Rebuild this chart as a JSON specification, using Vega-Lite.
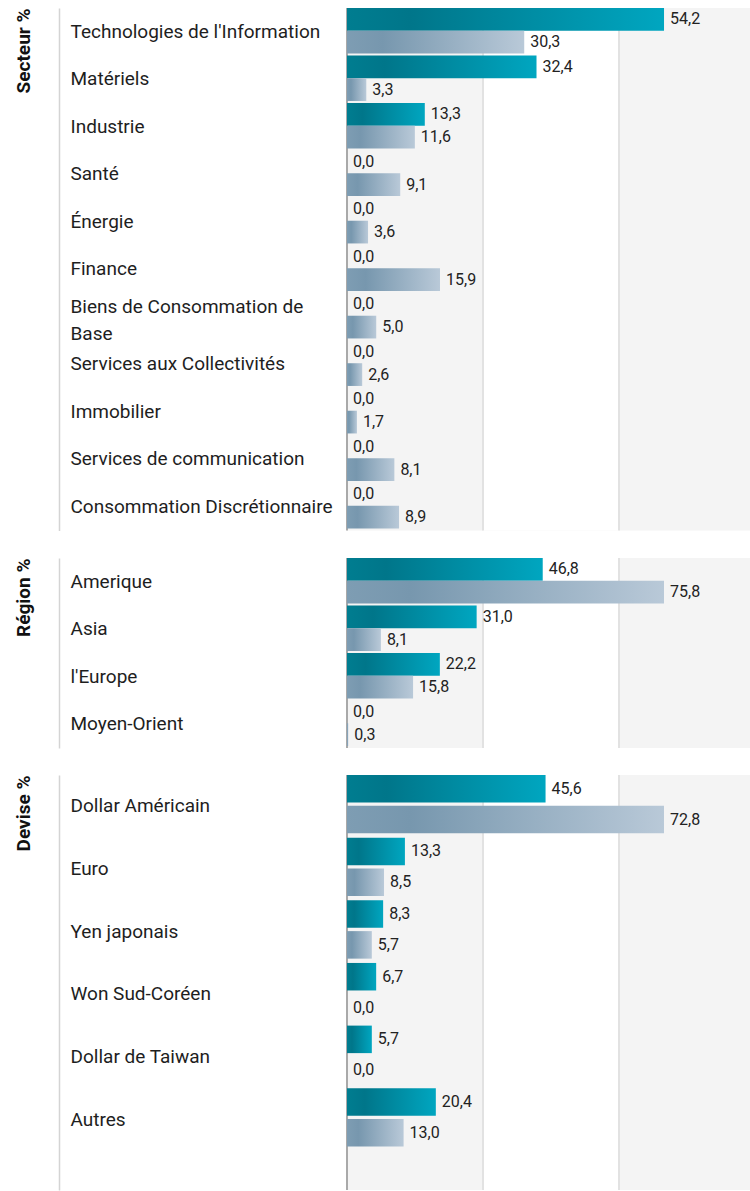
{
  "$schema": "https://vega.github.io/schema/vega-lite/v6.json",
  "background": "#ffffff",
  "padding": {"left": 14, "top": 7, "right": 0, "bottom": 0},
  "autosize": {"type": "pad"},
  "spacing": 25,
  "resolve": {"scale": {"yOffset": "independent"}},
  "datasets": {
    "secteur": [
      {"cat": "Technologies de l'Information", "s": "Fonds", "v": 54.2},
      {"cat": "Technologies de l'Information", "s": "Indice", "v": 30.3},
      {"cat": "Matériels", "s": "Fonds", "v": 32.4},
      {"cat": "Matériels", "s": "Indice", "v": 3.3},
      {"cat": "Industrie", "s": "Fonds", "v": 13.3},
      {"cat": "Industrie", "s": "Indice", "v": 11.6},
      {"cat": "Santé", "s": "Fonds", "v": 0.0},
      {"cat": "Santé", "s": "Indice", "v": 9.1},
      {"cat": "Énergie", "s": "Fonds", "v": 0.0},
      {"cat": "Énergie", "s": "Indice", "v": 3.6},
      {"cat": "Finance", "s": "Fonds", "v": 0.0},
      {"cat": "Finance", "s": "Indice", "v": 15.9},
      {"cat": "Biens de Consommation de Base", "s": "Fonds", "v": 0.0},
      {"cat": "Biens de Consommation de Base", "s": "Indice", "v": 5.0},
      {"cat": "Services aux Collectivités", "s": "Fonds", "v": 0.0},
      {"cat": "Services aux Collectivités", "s": "Indice", "v": 2.6},
      {"cat": "Immobilier", "s": "Fonds", "v": 0.0},
      {"cat": "Immobilier", "s": "Indice", "v": 1.7},
      {"cat": "Services de communication", "s": "Fonds", "v": 0.0},
      {"cat": "Services de communication", "s": "Indice", "v": 8.1},
      {"cat": "Consommation Discrétionnaire", "s": "Fonds", "v": 0.0},
      {"cat": "Consommation Discrétionnaire", "s": "Indice", "v": 8.9}
    ],
    "region": [
      {"cat": "Amerique", "s": "Fonds", "v": 46.8},
      {"cat": "Amerique", "s": "Indice", "v": 75.8},
      {"cat": "Asia", "s": "Fonds", "v": 31.0},
      {"cat": "Asia", "s": "Indice", "v": 8.1},
      {"cat": "l'Europe", "s": "Fonds", "v": 22.2},
      {"cat": "l'Europe", "s": "Indice", "v": 15.8},
      {"cat": "Moyen-Orient", "s": "Fonds", "v": 0.0},
      {"cat": "Moyen-Orient", "s": "Indice", "v": 0.3}
    ],
    "devise": [
      {"cat": "Dollar Américain", "s": "Fonds", "v": 45.6},
      {"cat": "Dollar Américain", "s": "Indice", "v": 72.8},
      {"cat": "Euro", "s": "Fonds", "v": 13.3},
      {"cat": "Euro", "s": "Indice", "v": 8.5},
      {"cat": "Yen japonais", "s": "Fonds", "v": 8.3},
      {"cat": "Yen japonais", "s": "Indice", "v": 5.7},
      {"cat": "Won Sud-Coréen", "s": "Fonds", "v": 6.7},
      {"cat": "Won Sud-Coréen", "s": "Indice", "v": 0.0},
      {"cat": "Dollar de Taiwan", "s": "Fonds", "v": 5.7},
      {"cat": "Dollar de Taiwan", "s": "Indice", "v": 0.0},
      {"cat": "Autres", "s": "Fonds", "v": 20.4},
      {"cat": "Autres", "s": "Indice", "v": 13.0}
    ]
  },
  "vconcat": [
    {
      "width": 404,
      "height": 522.5,
      "layer": [
        {"data": {"values": [{}]}, "mark": {"type": "rect", "color": "#ffffff"}, "encoding": {"x": {"datum": 23.25, "type": "quantitative", "scale": {"domain": [0, 69.07], "nice": false, "zero": true}, "axis": null}, "x2": {"datum": 46.5}}},
        {"data": {"values": [{}]}, "mark": {"type": "rule", "color": "#e2e2e2", "strokeWidth": 2}, "encoding": {"x": {"datum": 23.25, "type": "quantitative"}}},
        {"data": {"values": [{}]}, "mark": {"type": "rule", "color": "#e2e2e2", "strokeWidth": 2}, "encoding": {"x": {"datum": 46.5, "type": "quantitative"}}},
        {"data": {"values": [{}]}, "mark": {"type": "rule", "color": "#a9a9a9", "strokeWidth": 2}, "encoding": {"x": {"datum": 0, "type": "quantitative"}}},
        {
          "data": {"name": "secteur"},
          "transform": [{"filter": "datum.s === 'Fonds'"}],
          "mark": {"type": "bar", "color": {"gradient": "linear", "stops": [{"offset": 0, "color": "#007d90"}, {"offset": 0.2, "color": "#00768a"}, {"offset": 1, "color": "#00a6c0"}]}},
          "encoding": {
            "y": {"field": "cat", "type": "nominal", "sort": null, "scale": {"paddingInner": 0, "paddingOuter": 0}, "axis": {"title": "Secteur %"}},
            "yOffset": {"field": "s", "type": "nominal", "scale": {"domain": ["Fonds", "Indice"], "paddingInner": 0, "paddingOuter": 0.045, "align": 0}},
            "x": {"field": "v", "type": "quantitative"}
          }
        },
        {
          "data": {"name": "secteur"},
          "transform": [{"filter": "datum.s === 'Indice'"}],
          "mark": {"type": "bar", "color": {"gradient": "linear", "stops": [{"offset": 0, "color": "#7e9db3"}, {"offset": 0.2, "color": "#7797ae"}, {"offset": 1, "color": "#b9c9d8"}]}},
          "encoding": {
            "y": {"field": "cat", "type": "nominal", "sort": null},
            "yOffset": {"field": "s", "type": "nominal"},
            "x": {"field": "v", "type": "quantitative"}
          }
        },
        {
          "data": {"name": "secteur"},
          "mark": {"type": "text", "align": "left", "baseline": "middle", "dx": 6, "font": "Roboto", "fontSize": 16, "color": "#222222"},
          "encoding": {
            "y": {"field": "cat", "type": "nominal", "sort": null},
            "yOffset": {"field": "s", "type": "nominal"},
            "x": {"field": "v", "type": "quantitative"},
            "text": {"field": "v", "type": "quantitative", "format": ".1f"}
          }
        }
      ]
    },
    {
      "width": 404,
      "height": 190,
      "layer": [
        {"data": {"values": [{}]}, "mark": {"type": "rect", "color": "#ffffff"}, "encoding": {"x": {"datum": 32.52, "type": "quantitative", "scale": {"domain": [0, 96.6], "nice": false, "zero": true}, "axis": null}, "x2": {"datum": 65.04}}},
        {"data": {"values": [{}]}, "mark": {"type": "rule", "color": "#e2e2e2", "strokeWidth": 2}, "encoding": {"x": {"datum": 32.52, "type": "quantitative"}}},
        {"data": {"values": [{}]}, "mark": {"type": "rule", "color": "#e2e2e2", "strokeWidth": 2}, "encoding": {"x": {"datum": 65.04, "type": "quantitative"}}},
        {"data": {"values": [{}]}, "mark": {"type": "rule", "color": "#a9a9a9", "strokeWidth": 2}, "encoding": {"x": {"datum": 0, "type": "quantitative"}}},
        {
          "data": {"name": "region"},
          "transform": [{"filter": "datum.s === 'Fonds'"}],
          "mark": {"type": "bar", "color": {"gradient": "linear", "stops": [{"offset": 0, "color": "#007d90"}, {"offset": 0.2, "color": "#00768a"}, {"offset": 1, "color": "#00a6c0"}]}},
          "encoding": {
            "y": {"field": "cat", "type": "nominal", "sort": null, "scale": {"paddingInner": 0, "paddingOuter": 0}, "axis": {"title": "Région %"}},
            "yOffset": {"field": "s", "type": "nominal", "scale": {"domain": ["Fonds", "Indice"], "paddingInner": 0, "paddingOuter": 0.045, "align": 0}},
            "x": {"field": "v", "type": "quantitative"}
          }
        },
        {
          "data": {"name": "region"},
          "transform": [{"filter": "datum.s === 'Indice'"}],
          "mark": {"type": "bar", "color": {"gradient": "linear", "stops": [{"offset": 0, "color": "#7e9db3"}, {"offset": 0.2, "color": "#7797ae"}, {"offset": 1, "color": "#b9c9d8"}]}},
          "encoding": {
            "y": {"field": "cat", "type": "nominal", "sort": null},
            "yOffset": {"field": "s", "type": "nominal"},
            "x": {"field": "v", "type": "quantitative"}
          }
        },
        {
          "data": {"name": "region"},
          "mark": {"type": "text", "align": "left", "baseline": "middle", "dx": 6, "font": "Roboto", "fontSize": 16, "color": "#222222"},
          "encoding": {
            "y": {"field": "cat", "type": "nominal", "sort": null},
            "yOffset": {"field": "s", "type": "nominal"},
            "x": {"field": "v", "type": "quantitative"},
            "text": {"field": "v", "type": "quantitative", "format": ".1f"}
          }
        }
      ]
    },
    {
      "width": 404,
      "height": 415,
      "layer": [
        {"data": {"values": [{}]}, "mark": {"type": "rect", "color": "#ffffff"}, "encoding": {"x": {"datum": 31.23, "type": "quantitative", "scale": {"domain": [0, 92.78], "nice": false, "zero": true}, "axis": null}, "x2": {"datum": 62.46}}},
        {"data": {"values": [{}]}, "mark": {"type": "rule", "color": "#e2e2e2", "strokeWidth": 2}, "encoding": {"x": {"datum": 31.23, "type": "quantitative"}}},
        {"data": {"values": [{}]}, "mark": {"type": "rule", "color": "#e2e2e2", "strokeWidth": 2}, "encoding": {"x": {"datum": 62.46, "type": "quantitative"}}},
        {"data": {"values": [{}]}, "mark": {"type": "rule", "color": "#a9a9a9", "strokeWidth": 2}, "encoding": {"x": {"datum": 0, "type": "quantitative"}}},
        {
          "data": {"name": "devise"},
          "transform": [{"filter": "datum.s === 'Fonds'"}],
          "mark": {"type": "bar", "color": {"gradient": "linear", "stops": [{"offset": 0, "color": "#007d90"}, {"offset": 0.2, "color": "#00768a"}, {"offset": 1, "color": "#00a6c0"}]}},
          "encoding": {
            "y": {"field": "cat", "type": "nominal", "sort": null, "scale": {"paddingInner": 0, "paddingOuter": 0.312, "align": 0}, "axis": {"title": "Devise %"}},
            "yOffset": {"field": "s", "type": "nominal", "scale": {"domain": ["Fonds", "Indice"], "paddingInner": 0.107, "paddingOuter": 0.07, "align": 0}},
            "x": {"field": "v", "type": "quantitative"}
          }
        },
        {
          "data": {"name": "devise"},
          "transform": [{"filter": "datum.s === 'Indice'"}],
          "mark": {"type": "bar", "color": {"gradient": "linear", "stops": [{"offset": 0, "color": "#7e9db3"}, {"offset": 0.2, "color": "#7797ae"}, {"offset": 1, "color": "#b9c9d8"}]}},
          "encoding": {
            "y": {"field": "cat", "type": "nominal", "sort": null},
            "yOffset": {"field": "s", "type": "nominal"},
            "x": {"field": "v", "type": "quantitative"}
          }
        },
        {
          "data": {"name": "devise"},
          "mark": {"type": "text", "align": "left", "baseline": "middle", "dx": 6, "font": "Roboto", "fontSize": 16, "color": "#222222"},
          "encoding": {
            "y": {"field": "cat", "type": "nominal", "sort": null},
            "yOffset": {"field": "s", "type": "nominal"},
            "x": {"field": "v", "type": "quantitative"},
            "text": {"field": "v", "type": "quantitative", "format": ".1f"}
          }
        }
      ]
    }
  ],
  "config": {
    "locale": {"number": {"decimal": ",", "thousands": " ", "grouping": [3], "currency": ["", " €"]}},
    "view": {"stroke": null, "fill": "#f4f4f4"},
    "axisY": {
      "offset": 288,
      "domain": true,
      "domainColor": "#d4d4d4",
      "domainWidth": 1.5,
      "ticks": false,
      "grid": false,
      "labelAlign": "left",
      "labelBaseline": "middle",
      "labelPadding": -11,
      "labelOffset": {"condition": {"test": "datum.label === 'Biens de Consommation de Base'", "value": -10}, "value": 0},
      "labelLimit": 300,
      "labelFont": "Roboto",
      "labelFontSize": 19,
      "labelColor": "#1e1e1e",
      "labelLineHeight": 27,
      "labelExpr": "datum.label === 'Biens de Consommation de Base' ? ['Biens de Consommation de', 'Base'] : datum.label",
      "titleFont": "Roboto",
      "titleFontSize": 19,
      "titleFontWeight": "bold",
      "titleColor": "#111111",
      "titleAngle": -90,
      "titleAlign": "right",
      "titleBaseline": "alphabetic",
      "titleX": -30,
      "titleY": 0
    }
  }
}
